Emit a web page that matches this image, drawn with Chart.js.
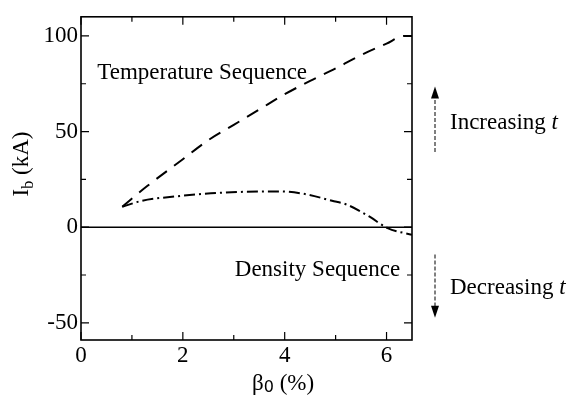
<!DOCTYPE html>
<html>
<head>
<meta charset="utf-8">
<script src="https://cdn.jsdelivr.net/npm/chart.js@4.4.1/dist/chart.umd.min.js"></script>
<style>
  html, body { margin: 0; padding: 0; background: #fff; }
  #plot { display: block; }
</style>
</head>
<body>
<canvas id="plot" width="579" height="406"></canvas>
<script>
// beta_0 (%) vs I_b (kA)
var TempBeta = [0.81, 1.3, 2, 2.5, 3, 3.5, 4, 4.5, 5, 5.5, 6, 6.35, 6.5];
var TempIb   = [10.7, 21.5, 35.5, 45.5, 53.5, 61.5, 69.5, 76.5, 83, 90, 96, 100, 100];
var DensBeta = [0.81, 1.2, 1.9, 2.55, 3.2, 3.9, 4.4, 4.93, 5.2, 5.66, 6.02, 6.5];
var DensIb   = [10.7, 13.8, 16.2, 17.7, 18.5, 18.7, 17.3, 13.8, 12, 5.6, -0.5, -4];
var ZeroBeta = [0, 6.5];
var ZeroIb   = [0, 0];

var XMajor = [0, 2, 4, 6];
var XMinor = [1, 3, 5];
var YMajor = [-50, 0, 50, 100];
var YMinor = [-25, 25, 75];

var FontFamily = '"Liberation Serif", "Times New Roman", serif';
var Ink = '#000';

function toPoints(_xs, _ys) {
    var _pts = [];
    for (var i = 0; i < _xs.length; i++) _pts.push({ x: _xs[i], y: _ys[i] });
    return _pts;
}

var framePlugin = {
    id: 'frame',
    afterDraw: function (chart) {
        var ctx = chart.ctx;
        var a = chart.chartArea;
        var xs = chart.scales.x;
        var ys = chart.scales.y;

        ctx.save();
        ctx.strokeStyle = Ink;
        ctx.fillStyle = Ink;
        ctx.lineWidth = 1.6;
        ctx.setLineDash([]);
        ctx.strokeRect(a.left, a.top, a.right - a.left, a.bottom - a.top);

        // inward ticks on all four sides
        function xtick(v, len) {
            var px = xs.getPixelForValue(v);
            ctx.beginPath();
            ctx.moveTo(px, a.bottom); ctx.lineTo(px, a.bottom - len);
            ctx.moveTo(px, a.top); ctx.lineTo(px, a.top + len);
            ctx.stroke();
        }
        function ytick(v, len) {
            var py = ys.getPixelForValue(v);
            ctx.beginPath();
            ctx.moveTo(a.left, py); ctx.lineTo(a.left + len, py);
            ctx.moveTo(a.right, py); ctx.lineTo(a.right - len, py);
            ctx.stroke();
        }
        ctx.lineWidth = 1.2;
        XMajor.forEach(function (v) { xtick(v, 8); });
        XMinor.forEach(function (v) { xtick(v, 5); });
        YMajor.forEach(function (v) { ytick(v, 8); });
        YMinor.forEach(function (v) { ytick(v, 5); });

        // axis titles
        ctx.textBaseline = 'alphabetic';
        ctx.textAlign = 'left';
        ctx.save();
        ctx.translate(28, 164);
        ctx.rotate(-Math.PI / 2);
        ctx.font = '23px ' + FontFamily;
        var w1 = ctx.measureText('I').width;
        ctx.font = '16px ' + FontFamily;
        var w2 = ctx.measureText('b').width;
        ctx.font = '23px ' + FontFamily;
        var w3 = ctx.measureText(' (kA)').width;
        var start = -(w1 + w2 + w3) / 2;
        ctx.fillText('I', start, 0);
        ctx.font = '16px ' + FontFamily;
        ctx.fillText('b', start + w1, 5);
        ctx.font = '23px ' + FontFamily;
        ctx.fillText(' (kA)', start + w1 + w2, 0);
        ctx.restore();

        ctx.font = '23px ' + FontFamily;
        ctx.textAlign = 'left';
        var bx = 252;
        ctx.fillText('\u03b2', bx, 390);
        var bw = ctx.measureText('\u03b2').width;
        ctx.font = '16px "DejaVu Sans", sans-serif';
        ctx.fillText('0', bx + bw, 392);
        var zw = ctx.measureText('0').width;
        ctx.font = '23px ' + FontFamily;
        ctx.fillText(' (%)', bx + bw + zw, 390);

        // annotations
        ctx.font = '23px ' + FontFamily;
        ctx.textBaseline = 'middle';
        ctx.textAlign = 'left';
        ctx.fillText('Temperature Sequence', xs.getPixelForValue(0.32), ys.getPixelForValue(80.5));
        ctx.fillText('Density Sequence', xs.getPixelForValue(3.02), ys.getPixelForValue(-22.5));

        var ax = a.right + 23;
        var tx = a.right + 38;
        function label(txt, v) {
            var py = ys.getPixelForValue(v);
            ctx.font = '23px ' + FontFamily;
            ctx.fillText(txt, tx, py);
            var w = ctx.measureText(txt + ' ').width;
            ctx.font = 'italic 23px ' + FontFamily;
            ctx.fillText('t', tx + w, py);
        }
        label('Increasing', 54.6);
        label('Decreasing', -32);

        function arrow(v0, v1) {
            var y0 = ys.getPixelForValue(v0);
            var y1 = ys.getPixelForValue(v1);
            var dir = y1 < y0 ? 1 : -1;
            ctx.lineWidth = 1;
            ctx.setLineDash([4, 2]);
            ctx.beginPath();
            ctx.moveTo(ax, y0);
            ctx.lineTo(ax, y1 + dir * 10);
            ctx.stroke();
            ctx.setLineDash([]);
            ctx.beginPath();
            ctx.moveTo(ax, y1);
            ctx.lineTo(ax - 4, y1 + dir * 12);
            ctx.lineTo(ax + 4, y1 + dir * 12);
            ctx.closePath();
            ctx.fill();
        }
        arrow(39.3, 73.5);
        arrow(-14.3, -47.4);

        ctx.restore();
    }
};

var ctx = document.getElementById('plot');
var PlotChart = new Chart(ctx, {
    type: 'line',
    data: {
        datasets: [
            {
                label: 'Temperature Sequence',
                data: toPoints(TempBeta, TempIb),
                borderColor: Ink,
                borderWidth: 2,
                borderDash: [13, 9],
                pointRadius: 0,
                fill: false,
                cubicInterpolationMode: 'monotone'
            },
            {
                label: 'Density Sequence',
                data: toPoints(DensBeta, DensIb),
                borderColor: Ink,
                borderWidth: 2,
                borderDash: [11, 4, 2, 4],
                pointRadius: 0,
                fill: false,
                cubicInterpolationMode: 'monotone'
            },
            {
                label: 'zero',
                data: toPoints(ZeroBeta, ZeroIb),
                borderColor: Ink,
                borderWidth: 1.5,
                pointRadius: 0,
                fill: false
            }
        ]
    },
    options: {
        responsive: false,
        animation: false,
        devicePixelRatio: 1,
        layout: { padding: { left: 0, right: 167, top: 8, bottom: 0 } },
        plugins: { legend: { display: false }, tooltip: { enabled: false } },
        scales: {
            x: {
                type: 'linear',
                min: 0,
                max: 6.5,
                afterBuildTicks: function (s) { s.ticks = XMajor.map(function (v) { return { value: v }; }); },
                afterFit: function (s) { s.height = 66; },
                grid: { display: false, drawTicks: false },
                border: { display: false },
                ticks: { color: Ink, padding: 2, font: { family: FontFamily, size: 23 } }
            },
            y: {
                type: 'linear',
                min: -59,
                max: 110,
                afterBuildTicks: function (s) { s.ticks = YMajor.map(function (v) { return { value: v }; }); },
                afterFit: function (s) { s.width = 81; },
                grid: { display: false, drawTicks: false },
                border: { display: false },
                ticks: { color: Ink, padding: 3, font: { family: FontFamily, size: 23 } }
            }
        }
    },
    plugins: [framePlugin]
});
</script>
</body>
</html>
